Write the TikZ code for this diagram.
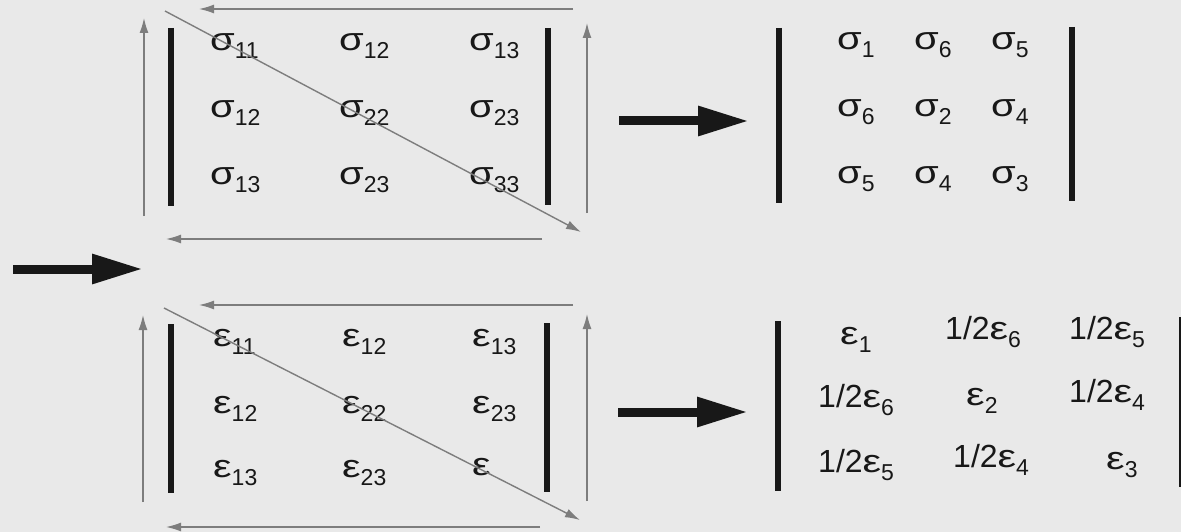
\documentclass[tikz,border=0pt]{standalone}
\usepackage{fontspec}
\setmainfont{Liberation Sans}
\usetikzlibrary{arrows.meta}

\definecolor{paper}{RGB}{233,233,233}
\definecolor{ink}{RGB}{24,24,24}
\definecolor{guide}{RGB}{125,125,125}

% lowered, smaller index after a tensor component
\newcommand\lo[1]{\raisebox{-8pt}{\fontsize{23}{24}\selectfont #1}}
% slightly wide Greek letters, as in a Symbol-style face
\newcommand\Gsig{\scalebox{1.25}[1]{σ}}
\newcommand\Geps{\scalebox{1.3}[1]{ε}}

\begin{document}
\begin{tikzpicture}[x=1pt,y=-1pt,
  entry/.style={anchor=base west, inner sep=0pt, font=\fontsize{32}{36}\selectfont, text=ink},
  bar/.style={draw=ink, line width=6pt},
  guidearrow/.style={draw=guide, line width=1.4pt, -{Latex[length=15pt,width=9pt]}},
  bigarrow/.style={draw=ink, line width=9pt, -{Triangle[length=51pt,width=28pt]}}]

\fill[paper] (0,0) rectangle (1181,532);
\useasboundingbox (0,0) rectangle (1181,532);

% ---------- stress tensor (3x3) ----------
\node[entry] (s11)  at (210,51)  {\Gsig\lo{11}};
\node[entry] (s12)  at (339,51)  {\Gsig\lo{12}};
\node[entry] (s13)  at (469,51)  {\Gsig\lo{13}};
\node[entry] (s21)  at (210,118) {\Gsig\lo{12}};
\node[entry] (s22)  at (339,118) {\Gsig\lo{22}};
\node[entry] (s23)  at (469,118) {\Gsig\lo{23}};
\node[entry] (s31)  at (210,185) {\Gsig\lo{13}};
\node[entry] (s32)  at (339,185) {\Gsig\lo{23}};
\node[entry] (s33)  at (469,185) {\Gsig\lo{33}};

\coordinate (sLt) at (171,28);  \coordinate (sLb) at (171,206);
\coordinate (sRt) at (548,28);  \coordinate (sRb) at (548,205);
\draw[bar] (sLt) -- (sLb);
\draw[bar] (sRt) -- (sRb);

\coordinate (sTopR) at (573,9);   \coordinate (sTopL) at (199,9);
\coordinate (sBotR) at (542,239); \coordinate (sBotL) at (166,239);
\coordinate (sUpLb) at (144,216); \coordinate (sUpLt) at (144,18);
\coordinate (sUpRb) at (587,213); \coordinate (sUpRt) at (587,23);
\coordinate (sDiagA) at (165,11); \coordinate (sDiagB) at (581,232);
\draw[guidearrow] (sTopR) -- (sTopL);
\draw[guidearrow] (sBotR) -- (sBotL);
\draw[guidearrow] (sUpLb) -- (sUpLt);
\draw[guidearrow] (sUpRb) -- (sUpRt);
\draw[guidearrow] (sDiagA) -- (sDiagB);

% ---------- strain tensor (3x3) ----------
\node[entry] (e11)  at (213,346) {\Geps\lo{11}};
\node[entry] (e12)  at (342,346) {\Geps\lo{12}};
\node[entry] (e13)  at (472,346) {\Geps\lo{13}};
\node[entry] (e21)  at (213,413) {\Geps\lo{12}};
\node[entry] (e22)  at (342,413) {\Geps\lo{22}};
\node[entry] (e23)  at (472,413) {\Geps\lo{23}};
\node[entry] (e31)  at (213,477) {\Geps\lo{13}};
\node[entry] (e32)  at (342,477) {\Geps\lo{23}};
\node[entry] (e33)  at (472,475) {\Geps};

\coordinate (eLt) at (171,324);  \coordinate (eLb) at (171,493);
\coordinate (eRt) at (547,323);  \coordinate (eRb) at (547,492);
\draw[bar] (eLt) -- (eLb);
\draw[bar] (eRt) -- (eRb);

\coordinate (eTopR) at (573,305); \coordinate (eTopL) at (199,305);
\coordinate (eBotR) at (540,527); \coordinate (eBotL) at (166,527);
\coordinate (eUpLb) at (143,502); \coordinate (eUpLt) at (143,315);
\coordinate (eUpRb) at (587,501); \coordinate (eUpRt) at (587,314);
\coordinate (eDiagA) at (164,308); \coordinate (eDiagB) at (580,520);
\draw[guidearrow] (eTopR) -- (eTopL);
\draw[guidearrow] (eBotR) -- (eBotL);
\draw[guidearrow] (eUpLb) -- (eUpLt);
\draw[guidearrow] (eUpRb) -- (eUpRt);
\draw[guidearrow] (eDiagA) -- (eDiagB);

% ---------- contracted stress ----------
\node[entry] (v11) at (837,50)  {\Gsig\lo{1}};
\node[entry] (v12) at (914,50)  {\Gsig\lo{6}};
\node[entry] (v13) at (991,50)  {\Gsig\lo{5}};
\node[entry] (v21) at (837,117) {\Gsig\lo{6}};
\node[entry] (v22) at (914,117) {\Gsig\lo{2}};
\node[entry] (v23) at (991,117) {\Gsig\lo{4}};
\node[entry] (v31) at (837,183) {\Gsig\lo{5}};
\node[entry] (v32) at (914,183) {\Gsig\lo{4}};
\node[entry] (v33) at (991,183) {\Gsig\lo{3}};

\coordinate (vLt) at (779,28);  \coordinate (vLb) at (779,203);
\coordinate (vRt) at (1072,27); \coordinate (vRb) at (1072,201);
\draw[bar] (vLt) -- (vLb);
\draw[bar] (vRt) -- (vRb);

% ---------- contracted strain ----------
\node[entry] (w11) at (840,344)  {\Geps\lo{1}};
\node[entry] (w12) at (945,339)  {1/2\Geps\lo{6}};
\node[entry] (w13) at (1069,339) {1/2\Geps\lo{5}};
\node[entry] (w21) at (818,407)  {1/2\Geps\lo{6}};
\node[entry] (w22) at (966,405)  {\Geps\lo{2}};
\node[entry] (w23) at (1069,402) {1/2\Geps\lo{4}};
\node[entry] (w31) at (818,472)  {1/2\Geps\lo{5}};
\node[entry] (w32) at (953,467)  {1/2\Geps\lo{4}};
\node[entry] (w33) at (1106,469) {\Geps\lo{3}};

\coordinate (wLt) at (778,321);  \coordinate (wLb) at (778,491);
\coordinate (wRt) at (1182,317); \coordinate (wRb) at (1182,487);
\draw[bar] (wLt) -- (wLb);
\draw[bar] (wRt) -- (wRb);

% ---------- heavy arrows ----------
\coordinate (inA) at (13,269);   \coordinate (inB) at (143,269);
\coordinate (toVa) at (619,121); \coordinate (toVb) at (749,121);
\coordinate (toWa) at (618,412); \coordinate (toWb) at (748,412);
\draw[bigarrow] (inA) -- (inB);
\draw[bigarrow] (toVa) -- (toVb);
\draw[bigarrow] (toWa) -- (toWb);

\end{tikzpicture}
\end{document}
